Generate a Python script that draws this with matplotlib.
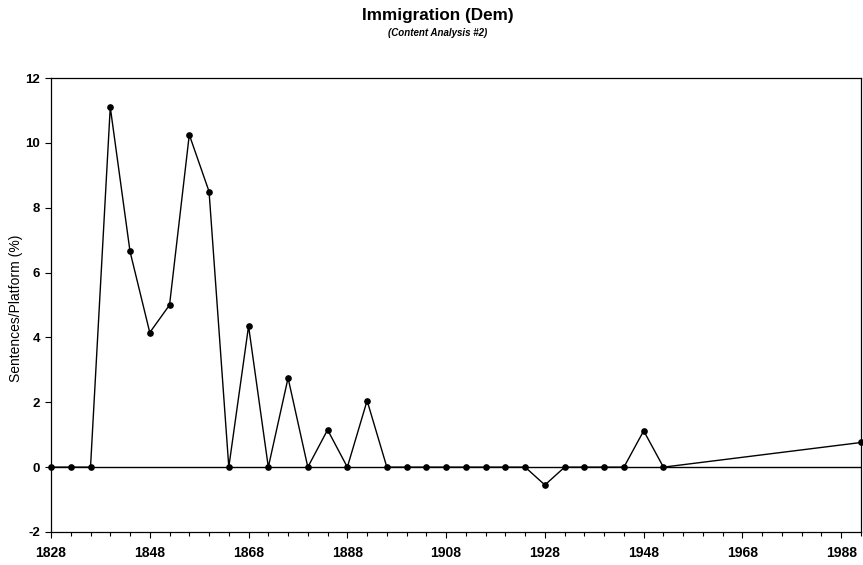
import matplotlib
matplotlib.use("Agg")
import matplotlib.pyplot as plt
from matplotlib.ticker import MultipleLocator

plt.rcParams['font.family'] = ['Liberation Sans', 'DejaVu Sans']
plt.rcParams['axes.unicode_minus'] = False

years = [1828, 1832, 1836, 1840, 1844, 1848, 1852, 1856, 1860, 1864,
         1868, 1872, 1876, 1880, 1884, 1888, 1892, 1896, 1900, 1904,
         1908, 1912, 1916, 1920, 1924, 1928, 1932, 1936, 1940, 1944,
         1948, 1952, 1992]
values = [0, 0, 0, 11.1, 6.65, 4.15, 5.0, 10.25, 8.5, 0,
          4.35, 0, 2.75, 0, 1.15, 0, 2.05, 0, 0, 0,
          0, 0, 0, 0, 0, -0.55, 0, 0, 0, 0,
          1.12, 0, 0.76]
x_ticks = [1828, 1848, 1868, 1888, 1908, 1928, 1948, 1968, 1988]
y_ticks = [-2, 0, 2, 4, 6, 8, 10, 12]

title = "Immigration (Dem)"
subtitle = "(Content Analysis #2)"
ylabel = "Sentences/Platform (%)"

fig = plt.figure(figsize=(8.63, 5.65), dpi=100)
ax = fig.add_axes([51/863, 1-532/565, (861-51)/863, (532-78)/565])

ax.axhline(0, color='black', lw=1.0, zorder=1)
ax.plot(years, values, color='black', lw=1.0, marker='o', markersize=3.8,
        clip_on=False, zorder=3)

ax.set_xlim(1828, 1992)
ax.set_ylim(-2, 12)
ax.set_xticks(x_ticks)
ax.set_yticks(y_ticks)
ax.xaxis.set_minor_locator(MultipleLocator(4))
ax.tick_params(axis='both', which='major', direction='out', length=4, width=0.8,
               color='black')
ax.tick_params(axis='x', which='minor', direction='out', length=3, width=0.8)
ax.tick_params(axis='x', labelsize=10, pad=6)
ax.tick_params(axis='y', labelsize=9.5, pad=4)
for lab in ax.get_xticklabels() + ax.get_yticklabels():
    lab.set_fontweight('bold')
for s in ax.spines.values():
    s.set_linewidth(0.9)
    s.set_color('black')

fig.text(0.507, 0.973, title, ha='center', va='center', fontsize=12.3,
         fontweight='bold')
fig.text(0.507, 0.942, subtitle, ha='center', va='center', fontsize=7,
         fontweight='bold', style='italic')
fig.text(0.019, 0.455, ylabel, ha='center', va='center', rotation=90,
         fontsize=10)

fig.savefig("out.png", dpi=100)
